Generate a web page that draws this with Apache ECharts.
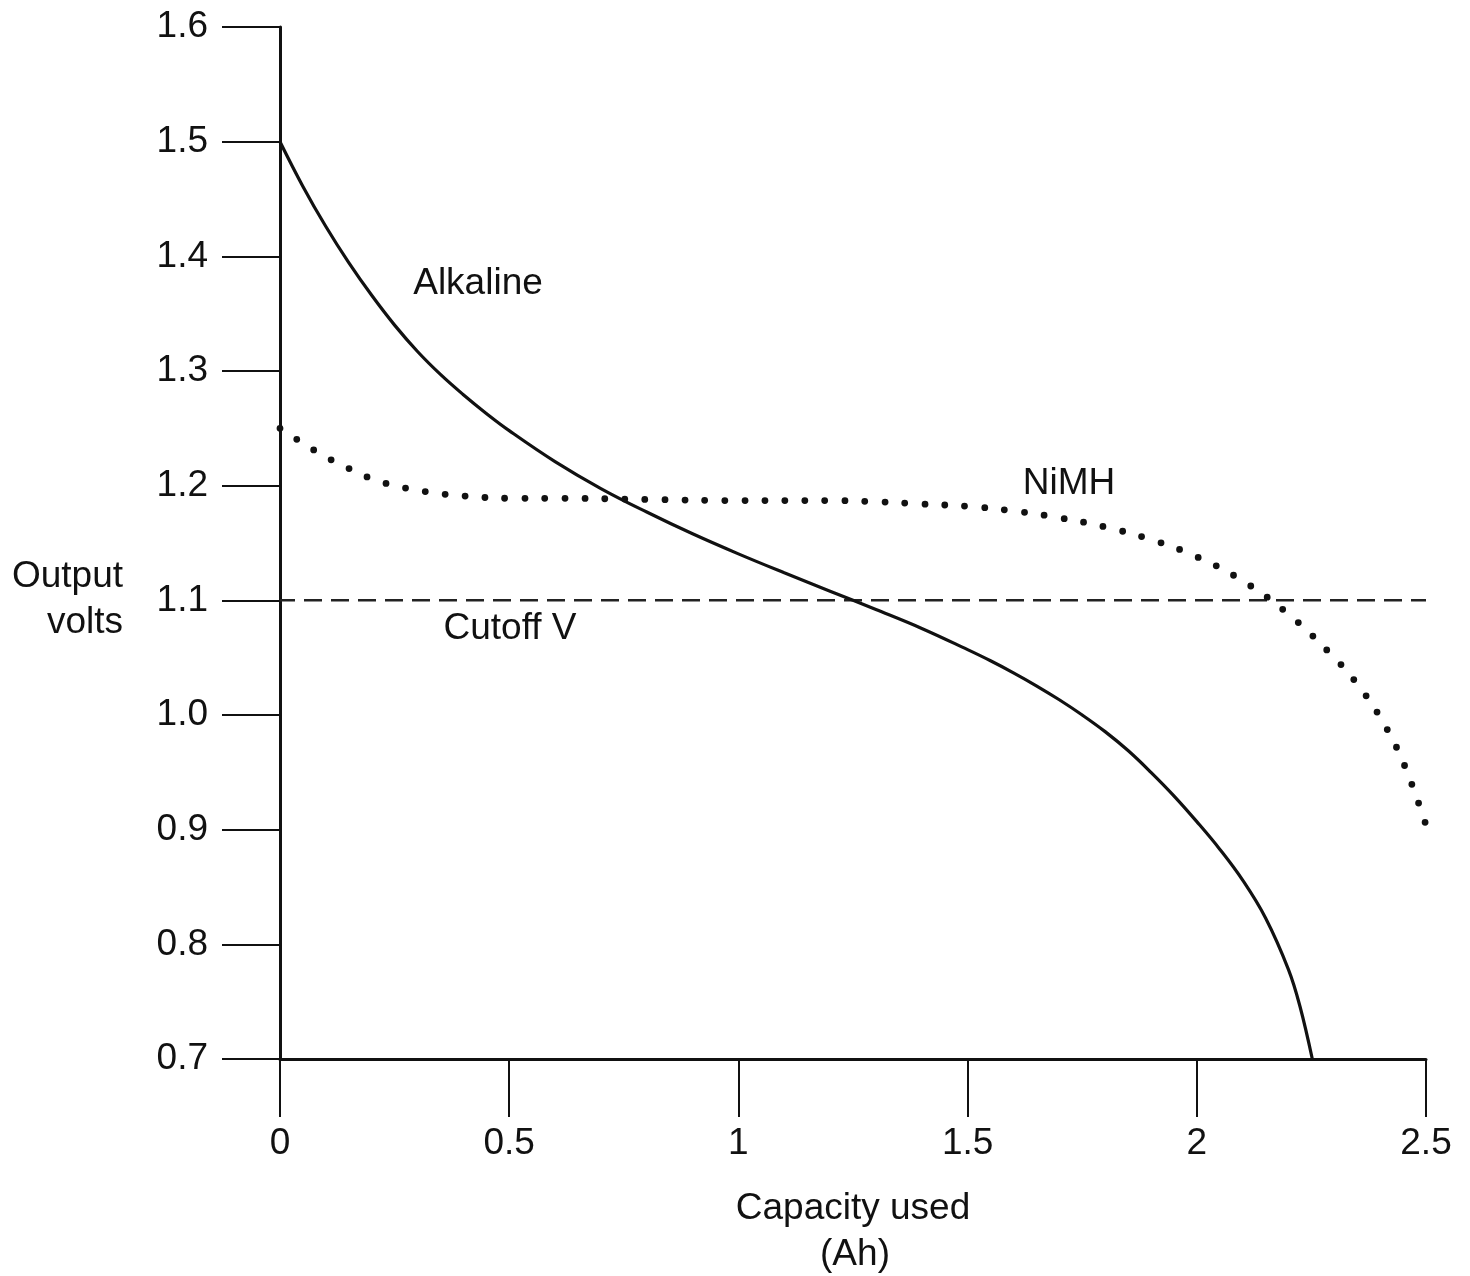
<!DOCTYPE html>
<html>
<head>
<meta charset="utf-8">
<script src="https://cdn.jsdelivr.net/npm/echarts@6/dist/echarts.min.js"></script>
<style>
html,body{margin:0;padding:0;background:#fff;}
#chart{width:1470px;height:1276px;}
</style>
</head>
<body>
<div id="chart"></div>
<script>
// Capacity used (Ah) / Output volts
const alkalineX = [0, 0.05, 0.1, 0.15, 0.2, 0.25, 0.3, 0.35, 0.4, 0.45, 0.5, 0.6, 0.7, 0.8, 0.9, 1.0, 1.1, 1.2, 1.3, 1.4, 1.5, 1.55, 1.6, 1.65, 1.7, 1.75, 1.8, 1.85, 1.9, 1.95, 2.0, 2.05, 2.1, 2.15, 2.2, 2.225, 2.252];
const alkalineY = [1.500, 1.461, 1.426, 1.3945, 1.366, 1.340, 1.317, 1.297, 1.2793, 1.263, 1.248, 1.221, 1.1975, 1.177, 1.158, 1.1405, 1.124, 1.108, 1.092, 1.0755, 1.057, 1.0473, 1.0368, 1.0255, 1.0133, 1.000, 0.9855, 0.969, 0.950, 0.9295, 0.907, 0.883, 0.856, 0.823, 0.778, 0.746, 0.700];

const nimhX = [0, 0.05, 0.1, 0.15, 0.2, 0.25, 0.3, 0.35, 0.4, 0.5, 0.6, 0.8, 1.0, 1.2, 1.3, 1.4, 1.5, 1.6, 1.7, 1.8, 1.9, 2.0, 2.1, 2.2, 2.3, 2.35, 2.4, 2.45, 2.5];
const nimhY = [1.250, 1.237, 1.225, 1.215, 1.206, 1.200, 1.196, 1.193, 1.191, 1.189, 1.189, 1.188, 1.187, 1.187, 1.186, 1.184, 1.182, 1.178, 1.172, 1.164, 1.153, 1.138, 1.117, 1.088, 1.050, 1.027, 0.998, 0.959, 0.904];

const cutoffX = [0, 2.5];
const cutoffY = [1.1, 1.1];

const xTickLabels = ['0', '0.5', '1', '1.5', '2', '2.5'];
const yTickLabels = ['0.7', '0.8', '0.9', '1.0', '1.1', '1.2', '1.3', '1.4', '1.5', '1.6'];

const zip = (xs, ys) => xs.map((x, i) => [x, ys[i]]);
const FONT = "'Liberation Sans', Arial, sans-serif";
const INK = '#111';
const FS = 37;

const chart = echarts.init(document.getElementById('chart'), null, {renderer: 'canvas'});
chart.setOption({
  animation: false,
  backgroundColor: '#fff',
  grid: {left: 280, right: 44, top: 27, bottom: 217, containLabel: false},
  xAxis: {
    type: 'value', min: 0, max: 2.5, interval: 0.5,
    axisLine: {show: true, onZero: false, lineStyle: {color: INK, width: 3}},
    axisTick: {show: true, inside: false, length: 58, lineStyle: {color: INK, width: 2}},
    axisLabel: {show: true, margin: 66, color: INK, fontSize: FS, fontFamily: FONT,
      formatter: (v) => { const i = Math.round(v / 0.5); return xTickLabels[i] !== undefined ? xTickLabels[i] : ''; }},
    splitLine: {show: false}
  },
  yAxis: {
    type: 'value', min: 0.7, max: 1.6, interval: 0.1,
    axisLine: {show: true, onZero: false, lineStyle: {color: INK, width: 3}},
    axisTick: {show: true, inside: false, length: 58, lineStyle: {color: INK, width: 2}},
    axisLabel: {show: true, margin: 72, color: INK, fontSize: FS, fontFamily: FONT,
      formatter: (v) => { const i = Math.round((v - 0.7) / 0.1); return yTickLabels[i] !== undefined ? yTickLabels[i] : ''; }},
    splitLine: {show: false}
  },
  series: [
    {
      name: 'Cutoff V', type: 'line', data: zip(cutoffX, cutoffY), symbol: 'none',
      lineStyle: {color: '#222', width: 2.5, type: [18, 9], dashOffset: 3}, z: 2
    },
    {
      name: 'NiMH', type: 'line', data: zip(nimhX, nimhY), symbol: 'none', smooth: 0.4,
      lineStyle: {color: INK, width: 6.8, type: [0, 20], cap: 'round'}, z: 3
    },
    {
      name: 'Alkaline', type: 'line', data: zip(alkalineX, alkalineY), symbol: 'none', smooth: 0.4,
      lineStyle: {color: INK, width: 3.2}, z: 4
    }
  ],
  graphic: [
    {type: 'text', x: 478, y: 284, style: {text: 'Alkaline', font: FS + 'px ' + FONT, fill: INK, align: 'center', verticalAlign: 'middle'}},
    {type: 'text', x: 1069, y: 484, style: {text: 'NiMH', font: FS + 'px ' + FONT, fill: INK, align: 'center', verticalAlign: 'middle'}},
    {type: 'text', x: 510, y: 629, style: {text: 'Cutoff V', font: FS + 'px ' + FONT, fill: INK, align: 'center', verticalAlign: 'middle'}},
    {type: 'text', x: 123, y: 577, style: {text: 'Output', font: FS + 'px ' + FONT, fill: INK, align: 'right', verticalAlign: 'middle'}},
    {type: 'text', x: 123, y: 623, style: {text: 'volts', font: FS + 'px ' + FONT, fill: INK, align: 'right', verticalAlign: 'middle'}},
    {type: 'text', x: 853, y: 1209, style: {text: 'Capacity used', font: FS + 'px ' + FONT, fill: INK, align: 'center', verticalAlign: 'middle'}},
    {type: 'text', x: 855, y: 1255, style: {text: '(Ah)', font: FS + 'px ' + FONT, fill: INK, align: 'center', verticalAlign: 'middle'}}
  ]
});
</script>
</body>
</html>
